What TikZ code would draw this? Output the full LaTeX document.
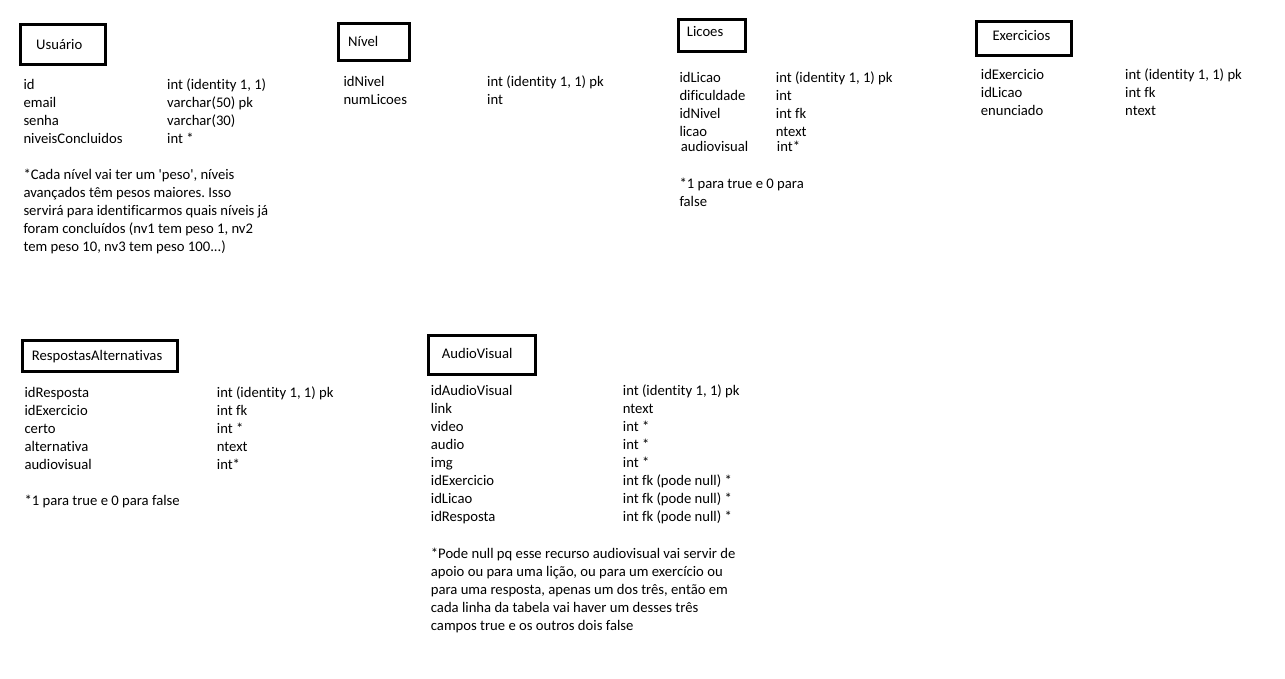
\documentclass[tikz,border=0pt]{standalone}
\usepackage{fontspec}
\newfontfamily\calfont{Carlito}[Ligatures=NoCommon]
\frenchspacing
\begin{document}
\begin{tikzpicture}[x=1pt,y=-1pt,
  tbox/.style={draw=black, line width=3pt, inner sep=0pt},
  txt/.style={anchor=base west, inner sep=0pt, font=\calfont\fontsize{14.67}{18}\selectfont\frenchspacing, text=black}]
\useasboundingbox (0,0) rectangle (1285,678);
% ---------- Usuario
\node[tbox, minimum width=85pt, minimum height=39.7pt] (bU) at (63.3,44.65) {};
\node[txt] (tU) at (36,49) {Usuário};
\node[txt] (u1a) at (23.3,89) {id};                 \node[txt] (u1b) at (167,89) {int (identity 1, 1)};
\node[txt] (u2a) at (23.3,107) {email};             \node[txt] (u2b) at (167,107) {varchar(50) pk};
\node[txt] (u3a) at (23.3,125) {senha};             \node[txt] (u3b) at (167,125) {varchar(30)};
\node[txt] (u4a) at (23.3,143) {niveisConcluidos};  \node[txt] (u4b) at (167,143) {int *};
\node[txt] (un1) at (23.3,179) {*Cada nível vai ter um 'peso', níveis};
\node[txt] (un2) at (23.3,197) {avançados têm pesos maiores. Isso};
\node[txt] (un3) at (23.3,215) {servirá para identificarmos quais níveis já};
\node[txt] (un4) at (23.3,233) {foram concluídos (nv1 tem peso 1, nv2};
\node[txt] (un5) at (23.3,251) {tem peso 10, nv3 tem peso 100...)};
% ---------- Nivel
\node[tbox, minimum width=70.4pt, minimum height=36.7pt] (bN) at (374,41.85) {};
\node[txt] (tN) at (348,46.7) {Nível};
\node[txt] (n1a) at (343.3,86) {idNivel};    \node[txt] (n1b) at (487,86) {int (identity 1, 1) pk};
\node[txt] (n2a) at (343.3,104) {numLicoes}; \node[txt] (n2b) at (487,104) {int};
% ---------- Licoes
\node[tbox, minimum width=66.4pt, minimum height=32pt] (bL) at (712,35.8) {};
\node[txt] (tL) at (686.7,36.7) {Licoes};
\node[txt] (l1a) at (679.3,82.7) {idLicao};      \node[txt] (l1b) at (775.7,82.7) {int (identity 1, 1) pk};
\node[txt] (l2a) at (679.3,100.7) {dificuldade}; \node[txt] (l2b) at (775.7,100.7) {int};
\node[txt] (l3a) at (679.3,118.7) {idNivel};     \node[txt] (l3b) at (775.7,118.7) {int fk};
\node[txt] (l4a) at (679.3,136.7) {licao};       \node[txt] (l4b) at (775.7,136.7) {ntext};
\node[txt] (l5a) at (680.7,151.7) {audiovisual}; \node[txt] (l5b) at (776.7,151.7) {int*};
\node[txt] (ln1) at (679.3,188.3) {*1 para true e 0 para};
\node[txt] (ln2) at (679.3,206) {false};
% ---------- Exercicios
\node[tbox, minimum width=94.7pt, minimum height=33.7pt] (bE) at (1023.85,38.35) {};
\node[txt] (tE) at (992.3,40) {Exercicios};
\node[txt] (e1a) at (980.7,79.3) {idExercicio}; \node[txt] (e1b) at (1125,79.3) {int (identity 1, 1) pk};
\node[txt] (e2a) at (980.7,97.3) {idLicao};     \node[txt] (e2b) at (1125,97.3) {int fk};
\node[txt] (e3a) at (980.7,115.3) {enunciado};  \node[txt] (e3b) at (1125,115.3) {ntext};
% ---------- RespostasAlternativas
\node[tbox, minimum width=155.3pt, minimum height=31pt] (bR) at (99.85,356.3) {};
\node[txt] (tR) at (31.7,360) {RespostasAlternativas};
\node[txt] (r1a) at (24.3,397.7) {idResposta};  \node[txt] (r1b) at (216.7,397.7) {int (identity 1, 1) pk};
\node[txt] (r2a) at (24.3,415.7) {idExercicio}; \node[txt] (r2b) at (216.7,415.7) {int fk};
\node[txt] (r3a) at (24.3,433.7) {certo};       \node[txt] (r3b) at (216.7,433.7) {int *};
\node[txt] (r4a) at (24.3,451.7) {alternativa}; \node[txt] (r4b) at (216.7,451.7) {ntext};
\node[txt] (r5a) at (24.3,469.7) {audiovisual}; \node[txt] (r5b) at (216.7,469.7) {int*};
\node[txt] (rn1) at (24.3,505.7) {*1 para true e 0 para false};
% ---------- AudioVisual
\node[tbox, minimum width=107pt, minimum height=38.7pt] (bA) at (481.7,354.85) {};
\node[txt] (tA) at (441.7,358.3) {AudioVisual};
\node[txt] (a1a) at (430.7,395) {idAudioVisual}; \node[txt] (a1b) at (622.7,395) {int (identity 1, 1) pk};
\node[txt] (a2a) at (430.7,413) {link};          \node[txt] (a2b) at (622.7,413) {ntext};
\node[txt] (a3a) at (430.7,431) {video};         \node[txt] (a3b) at (622.7,431) {int *};
\node[txt] (a4a) at (430.7,449) {audio};         \node[txt] (a4b) at (622.7,449) {int *};
\node[txt] (a5a) at (430.7,467) {img};           \node[txt] (a5b) at (622.7,467) {int *};
\node[txt] (a6a) at (430.7,485) {idExercicio};   \node[txt] (a6b) at (622.7,485) {int fk (pode null) *};
\node[txt] (a7a) at (430.7,503) {idLicao};       \node[txt] (a7b) at (622.7,503) {int fk (pode null) *};
\node[txt] (a8a) at (430.7,521) {idResposta};    \node[txt] (a8b) at (622.7,521) {int fk (pode null) *};
\node[txt] (an1) at (430.7,558.3) {*Pode null pq esse recurso audiovisual vai servir de};
\node[txt] (an2) at (430.7,576.3) {apoio ou para uma lição, ou para um exercício ou};
\node[txt] (an3) at (430.7,594.3) {para uma resposta, apenas um dos três, então em};
\node[txt] (an4) at (430.7,612.3) {cada linha da tabela vai haver um desses três};
\node[txt] (an5) at (430.7,630.3) {campos true e os outros dois false};
\end{tikzpicture}
\end{document}
